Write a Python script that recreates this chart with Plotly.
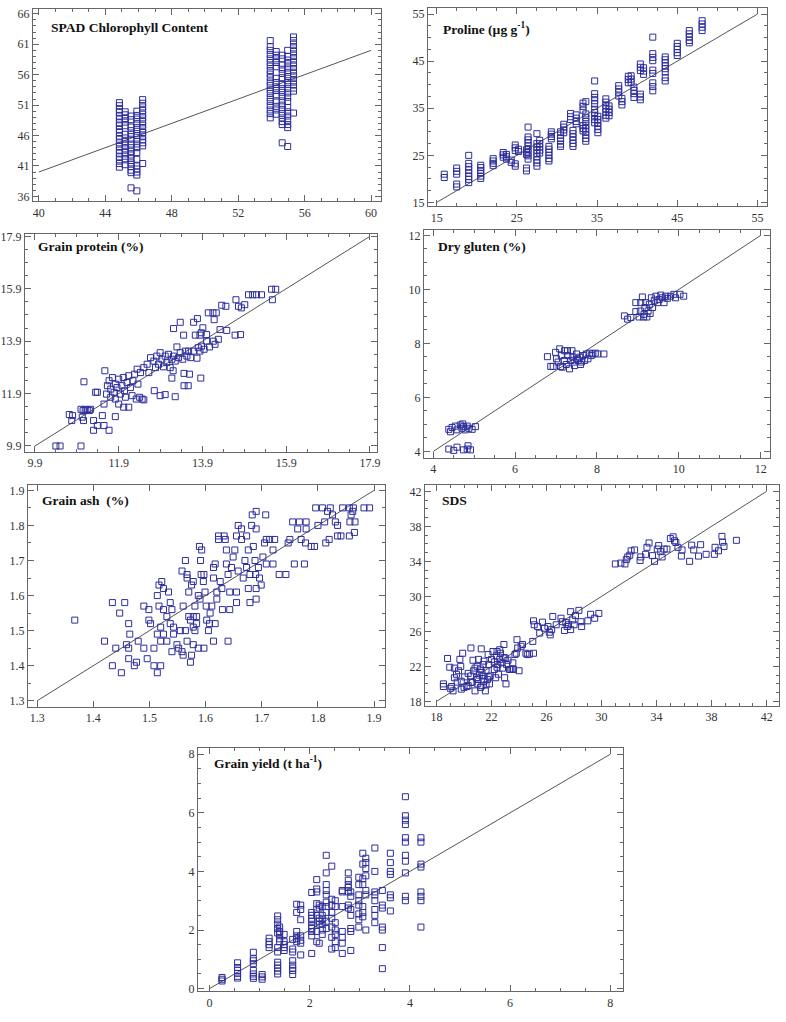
import plotly.graph_objects as go

FONT = "Liberation Serif, Times New Roman, serif"
W, H = 786, 1022
MARK = "#2e2e9c"

# ---- SPAD chlorophyll content (points stacked in columns) ----
spad_cols = [44.85, 45.2, 45.55, 45.9, 46.25, 53.93, 54.29, 54.65, 54.98, 55.33]
spad_vals = [
    [51.4, 50.9, 50.3, 49.8, 49.2, 48.7, 48.1, 47.6, 47.0, 46.5, 45.9, 45.4, 44.8, 44.2, 43.6, 43.1, 42.5, 42.0, 41.4, 40.8],
    [49.9, 49.4, 48.8, 48.2, 47.6, 46.2, 45.6, 45.0, 44.4, 43.8, 43.2, 42.6, 42.0, 41.2],
    [49.2, 48.6, 47.4, 46.8, 46.2, 45.4, 44.6, 44.0, 43.4, 42.8, 42.2, 41.5, 40.9, 40.3, 39.9, 37.4],
    [50.0, 49.3, 48.7, 48.0, 47.3, 46.7, 46.0, 45.3, 44.6, 44.0, 43.2, 42.1, 41.0, 40.5, 40.0, 39.5, 36.9],
    [51.9, 51.3, 50.7, 50.1, 49.5, 48.9, 48.3, 47.7, 47.1, 46.5, 45.9, 45.3, 44.8, 44.3, 41.4],
    [61.6, 60.6, 60.0, 59.3, 58.6, 58.0, 57.4, 56.7, 56.1, 55.5, 54.8, 54.2, 53.5, 52.9, 52.2, 51.6, 50.9, 50.2, 49.6, 48.9],
    [59.8, 59.2, 58.6, 58.0, 57.3, 55.4, 54.7, 54.0, 53.4, 52.7, 51.5, 50.8, 50.2, 49.5],
    [59.2, 58.6, 57.6, 56.9, 56.2, 55.5, 54.4, 53.7, 53.1, 52.4, 51.7, 51.0, 50.3, 49.6, 48.9, 48.3, 47.8, 44.8],
    [60.0, 59.0, 58.4, 57.8, 57.1, 56.4, 55.7, 55.0, 54.4, 53.7, 53.0, 52.3, 51.6, 50.6, 49.9, 49.2, 48.5, 47.8, 47.3, 44.2],
    [62.2, 61.6, 61.0, 60.4, 59.8, 59.2, 58.6, 58.0, 57.4, 56.8, 56.2, 55.6, 55.0, 54.4, 53.8, 53.3, 49.7],
]
spad_line = [40, 60]

# ---- Proline (columns) ----
proline_cols = [15.95, 17.5, 19.0, 20.5, 22.05, 23.3, 23.7, 24.3, 24.8, 25.2, 26.2, 26.4, 27.5,
                27.85, 29.0, 29.3, 30.45, 30.85, 31.7, 32.0, 32.4, 33.25, 33.6, 34.7, 35.1, 36.1,
                36.5, 37.7, 38.1, 38.9, 39.25, 39.6, 40.4, 40.8, 41.95, 43.5, 45.0, 46.5, 48.1]
proline_vals = [
    [21.0, 20.3],
    [22.3, 21.6, 21.0, 18.9, 18.3],
    [25.0, 23.3, 22.6, 21.9, 21.2, 20.5, 19.9, 19.2],
    [22.9, 22.4, 21.8, 21.2, 20.6, 20.1],
    [24.3, 23.8, 23.3, 22.8],
    [25.6, 25.1, 24.6],
    [25.2, 24.7, 24.2],
    [24.0, 23.5],
    [27.2, 26.6, 26.0, 23.2, 22.7],
    [26.3, 25.8],
    [26.2, 25.7, 25.2, 22.3, 21.7],
    [31.0, 28.9, 28.3, 27.7, 27.0, 26.3, 25.6, 24.9, 24.2],
    [29.6, 27.5, 26.8, 26.1, 25.4, 24.7, 24.0, 23.4, 22.7],
    [28.2, 27.5, 26.8, 26.1, 25.5],
    [26.9, 26.3, 25.7, 25.0, 24.3, 23.8],
    [30.0, 29.5, 29.0, 28.5],
    [30.0, 29.3, 28.6, 28.0, 27.4, 26.9],
    [31.6, 31.0, 30.4, 29.8],
    [33.9, 33.2, 32.6],
    [30.3, 29.6, 28.9, 28.2, 27.5, 26.9],
    [33.6, 32.9, 32.2, 31.7],
    [36.1, 35.4, 34.6, 31.3, 30.7, 30.2],
    [36.4, 33.8, 33.0, 32.2, 31.4, 30.7, 30.0, 29.3, 28.6, 28.0],
    [40.8, 38.1, 37.3, 36.6, 35.9, 34.8, 34.1, 33.4, 32.6, 31.9],
    [33.3, 32.6, 31.9, 31.2, 30.5, 29.8],
    [37.0, 36.3, 35.6, 34.9, 34.2, 33.5, 32.9],
    [35.5, 34.8, 34.1, 33.4],
    [39.8, 39.1, 38.4, 37.6],
    [37.1, 36.4, 35.7],
    [41.8, 41.1, 40.4],
    [41.9, 41.2, 40.5],
    [39.5, 38.8, 38.1, 37.3],
    [44.4, 43.7, 43.0, 38.0, 37.4, 36.8],
    [43.6, 42.9, 42.2],
    [50.1, 46.6, 45.8, 45.1, 43.1, 42.4, 40.4, 39.6, 38.7],
    [45.9, 45.3, 44.7, 44.0, 43.4, 42.7, 41.5, 40.8],
    [48.8, 48.1, 47.5, 46.8, 46.2],
    [51.5, 50.8, 50.1, 49.4, 48.9],
    [53.6, 52.9, 52.2, 51.5],
]
proline_line = [15, 55]

# ---- Grain protein ----
protein_x = [10.4, 10.5, 11.0, 10.72, 10.8, 10.78, 11.0, 11.05, 11.1, 11.15, 11.2, 11.23, 11.03, 11.06,
             11.3, 11.3, 11.39, 11.51, 11.55, 11.67, 11.35, 11.39, 11.07, 11.57,
             11.63, 11.67, 11.71, 11.75, 11.79, 11.82, 11.86, 11.9, 11.94, 11.98, 12.01, 12.04, 12.06,
             12.1, 12.14, 12.18, 12.22, 12.24, 12.28, 12.32, 12.36, 12.4, 12.46, 12.5, 11.61, 11.71,
             11.82, 11.9, 12.02, 12.14, 11.82, 11.55,
             12.34, 12.42, 12.5, 12.58, 12.62, 12.66, 12.74, 12.78, 12.81, 12.85, 12.89, 12.93, 12.97,
             13.01, 13.05, 13.09, 13.13, 13.17, 13.21, 13.25, 13.29, 13.33, 13.37, 13.43, 13.49, 13.53,
             13.57, 13.62, 13.69, 13.77, 13.8, 13.84, 13.88, 13.94, 14.0, 14.07, 14.16, 14.2,
             12.75, 12.89, 13.01, 13.25, 13.17, 13.2, 13.46, 13.59, 13.46, 13.56, 13.86,
             13.37, 13.21, 13.45, 13.73, 13.84, 13.69, 13.78, 13.87, 13.91, 14.0, 14.04, 14.15, 14.23,
             14.18, 14.36, 14.46, 14.48, 14.68, 14.81, 14.7, 14.76, 14.83, 14.91, 15.0, 15.1, 15.19,
             15.31, 15.55, 15.65, 15.57, 14.28, 14.32]
protein_y = [9.9, 9.9, 9.9, 11.1, 11.06, 10.87, 11.3, 11.25, 11.3, 11.28, 11.25, 11.3, 11.0, 10.87,
             10.87, 10.5, 10.68, 11.06, 10.68, 10.5, 11.95, 11.95, 12.35, 12.77,
             12.2, 12.39, 12.07, 12.51, 11.95, 12.26, 12.13, 12.45, 11.88, 12.2, 12.51, 12.01, 11.76,
             12.32, 12.58, 12.13, 11.82, 12.39, 12.64, 11.69, 12.26, 11.76, 11.69, 11.66, 11.88, 11.76,
             11.69, 11.5, 11.38, 11.38, 11.02, 11.5,
             12.83, 12.7, 12.89, 13.02, 12.7, 13.27, 13.14, 12.89, 13.33, 13.02, 13.46, 13.21, 12.92,
             13.33, 13.08, 13.4, 12.89, 13.21, 13.33, 13.14, 13.68, 13.27, 13.46, 13.21, 13.52, 13.33,
             13.52, 13.27, 13.52, 13.25, 13.65, 13.52, 13.71, 13.59, 13.9, 13.68, 13.9, 13.78,
             12.01, 11.82, 11.86, 11.78, 12.49, 12.77, 12.67, 12.64, 12.2, 12.2, 12.49,
             14.62, 14.38, 14.13, 14.13, 14.13, 14.62, 14.76, 14.22, 14.41, 14.15, 14.98, 14.98, 14.98,
             14.72, 15.27, 15.23, 14.31, 14.13, 14.15, 15.48, 15.23, 15.17, 15.29, 15.67, 15.67, 15.67,
             15.67, 15.88, 15.88, 15.48, 13.97, 14.34]
protein_line = [9.9, 17.9]

# ---- Dry gluten ----
gluten_x = [4.38, 4.46, 4.54, 4.58, 4.66, 4.7, 4.74, 4.78, 4.83, 4.87, 4.95, 5.03, 4.42, 4.72,
            4.38, 4.5, 4.58, 4.74, 4.83, 4.85, 4.91,
            6.79, 6.87, 6.93, 6.99, 7.01, 7.05, 7.09, 7.13, 7.15, 7.2, 7.21, 7.25, 7.29, 7.33, 7.36,
            7.39, 7.41, 7.45, 7.5, 7.54, 7.58, 7.62, 7.66, 7.7, 7.74, 7.78, 7.82, 7.86, 7.9, 7.96,
            8.02, 8.17, 7.28, 7.44, 7.52, 7.6, 7.11,
            8.67, 8.75, 8.83, 8.95, 9.06, 8.95, 9.07, 9.11, 9.15, 9.17, 9.19, 9.22, 9.25, 9.28, 9.3,
            9.33, 9.36, 9.4, 9.44, 9.48, 9.52, 9.56, 9.6, 9.64, 9.68, 9.72, 9.8, 9.88, 9.92, 10.03,
            10.12, 9.14, 9.03]
gluten_y = [4.82, 4.89, 4.94, 4.8, 4.98, 4.86, 4.92, 4.8, 4.94, 4.86, 4.82, 4.92, 4.73, 5.02,
            4.09, 4.04, 4.16, 4.06, 4.09, 4.21, 4.06,
            7.51, 7.15, 7.15, 7.67, 7.43, 7.31, 7.8, 7.55, 7.12, 7.37, 7.73, 7.22, 7.55, 7.06, 7.37,
            7.73, 7.49, 7.18, 7.61, 7.37, 7.49, 7.31, 7.55, 7.37, 7.61, 7.43, 7.64, 7.55, 7.61, 7.64,
            7.61, 7.61, 7.73, 7.31, 7.43, 7.22, 7.15,
            9.02, 8.9, 8.96, 9.18, 9.2, 9.51, 9.51, 9.72, 9.08, 9.33, 9.51, 8.98, 9.2, 9.45, 9.11,
            9.69, 9.33, 9.6, 9.75, 9.51, 9.63, 9.79, 9.69, 9.51, 9.75, 9.67, 9.75, 9.82, 9.69, 9.82,
            9.75, 8.98, 8.98]
gluten_line = [4, 12]

# ---- Grain ash ----
ash_x = [1.367, 1.42, 1.434, 1.456, 1.447, 1.463, 1.465, 1.44, 1.459, 1.463, 1.463, 1.477, 1.434,
         1.45, 1.473, 1.48, 1.49, 1.499, 1.499, 1.502, 1.49, 1.496, 1.508, 1.508, 1.514, 1.517,
         1.522, 1.514, 1.517, 1.525, 1.525, 1.534, 1.537, 1.531, 1.52, 1.514, 1.525, 1.537, 1.543,
         1.549, 1.558, 1.552, 1.54, 1.56, 1.52, 1.52, 1.531, 1.555, 1.564, 1.56, 1.564, 1.558,
         1.567, 1.567, 1.57, 1.57, 1.573, 1.578, 1.575, 1.578, 1.573, 1.567, 1.578, 1.584, 1.581,
         1.581, 1.587, 1.589, 1.591, 1.593, 1.584, 1.59, 1.592, 1.596, 1.597, 1.597, 1.599, 1.601,
         1.602, 1.605, 1.607, 1.608, 1.611, 1.614, 1.614, 1.617, 1.617, 1.62, 1.62, 1.623, 1.623,
         1.626, 1.629, 1.63, 1.633, 1.635, 1.637, 1.637, 1.64, 1.64, 1.643, 1.643, 1.646, 1.649,
         1.652, 1.655, 1.655, 1.658, 1.655, 1.658, 1.664, 1.664, 1.667, 1.67, 1.673, 1.673, 1.676,
         1.676, 1.679, 1.679, 1.682, 1.683, 1.685, 1.688, 1.689, 1.69, 1.69, 1.69, 1.69, 1.694,
         1.696, 1.699, 1.702, 1.705, 1.707, 1.708, 1.708, 1.714, 1.72, 1.723, 1.72, 1.731, 1.743,
         1.747, 1.75, 1.758, 1.755, 1.767, 1.764, 1.77, 1.776, 1.779, 1.779, 1.778, 1.788, 1.794,
         1.796, 1.8, 1.808, 1.812, 1.814, 1.817, 1.82, 1.822, 1.826, 1.831, 1.835, 1.835, 1.841,
         1.844, 1.856, 1.856, 1.857, 1.859, 1.862, 1.865, 1.866, 1.882, 1.892, 1.863, 1.54, 1.543,
         1.587, 1.614, 1.578, 1.575]
ash_y = [1.53, 1.47, 1.58, 1.58, 1.55, 1.52, 1.49, 1.45, 1.46, 1.45, 1.42, 1.41, 1.40,
         1.38, 1.40, 1.47, 1.57, 1.56, 1.53, 1.52, 1.45, 1.42, 1.45, 1.40, 1.38, 1.63,
         1.64, 1.60, 1.57, 1.62, 1.56, 1.61, 1.58, 1.54, 1.51, 1.49, 1.49, 1.52, 1.49,
         1.46, 1.44, 1.45, 1.44, 1.43, 1.40, 1.47, 1.47, 1.50, 1.50, 1.57, 1.70, 1.67,
         1.66, 1.65, 1.61, 1.54, 1.53, 1.54, 1.63, 1.64, 1.41, 1.47, 1.51, 1.52, 1.50,
         1.57, 1.60, 1.74, 1.70, 1.73, 1.54, 1.59, 1.66, 1.64, 1.66, 1.45, 1.61, 1.57,
         1.53, 1.50, 1.52, 1.55, 1.57, 1.68, 1.65, 1.69, 1.52, 1.61, 1.59, 1.77, 1.76,
         1.64, 1.62, 1.56, 1.77, 1.76, 1.73, 1.69, 1.66, 1.47, 1.61, 1.56, 1.68, 1.71,
         1.73, 1.61, 1.58, 1.67, 1.77, 1.80, 1.76, 1.79, 1.65, 1.70, 1.68, 1.77, 1.73,
         1.62, 1.66, 1.58, 1.80, 1.83, 1.74, 1.70, 1.66, 1.84, 1.79, 1.62, 1.59, 1.68,
         1.65, 1.63, 1.71, 1.75, 1.83, 1.76, 1.69, 1.76, 1.69, 1.76, 1.73, 1.66, 1.66,
         1.75, 1.76, 1.69, 1.81, 1.81, 1.79, 1.76, 1.69, 1.79, 1.81, 1.75, 1.74, 1.74,
         1.85, 1.80, 1.85, 1.81, 1.75, 1.84, 1.76, 1.85, 1.83, 1.81, 1.80, 1.77, 1.77,
         1.85, 1.85, 1.77, 1.81, 1.83, 1.84, 1.78, 1.81, 1.85, 1.85, 1.85, 1.56, 1.51,
         1.45, 1.47, 1.46, 1.43]
ash_line = [1.3, 1.9]

# ---- SDS sedimentation ----
sds_x = [18.5, 18.5, 18.8, 18.96, 19.1, 19.2, 19.3, 19.45, 19.6, 19.7, 19.76, 19.8, 19.8, 19.9,
         20.05, 20.2, 20.3, 20.5, 20.5, 20.5, 20.65, 20.7, 20.8, 20.9, 20.95, 21.0, 21.05, 21.2,
         21.25, 21.3, 21.4, 21.45, 21.55, 21.6, 21.7, 21.75, 21.8, 21.85, 21.9, 22.0, 22.1, 22.2,
         22.3, 22.35, 22.4, 22.45, 22.5, 22.6, 22.65, 22.75, 22.8, 22.9, 22.95, 23.0, 23.05, 23.1,
         23.2, 23.3, 23.4, 23.55, 23.6, 23.7, 23.8, 23.85, 23.9, 24.0, 24.15, 24.25, 24.5, 24.6,
         24.75, 25.0, 25.05, 21.1, 21.3, 21.45, 21.6, 21.0, 21.2, 20.6, 22.4, 22.2, 23.5, 19.0,
         19.5, 20.0, 20.3, 21.8, 22.6, 22.9, 21.4, 20.8, 19.3,
         25.05, 25.1, 25.35, 25.5, 25.7, 25.85, 26.1, 26.2, 26.27, 26.37, 26.45, 26.7, 27.05, 27.15,
         27.3, 27.4, 27.5, 27.6, 27.75, 27.75, 27.9, 28.0, 28.1, 28.35, 28.5, 28.55, 29.0, 29.2,
         29.5, 29.8,
         31.0, 31.4, 31.7, 31.8, 31.9, 32.05, 32.15, 32.4, 32.8, 32.85, 33.2, 33.3, 33.45, 33.7,
         33.85, 34.05, 34.15, 34.3, 34.4, 34.55, 34.75, 35.0, 35.2, 35.3, 35.4, 35.55, 35.85, 35.8,
         36.4, 36.55, 36.7, 37.05, 37.2, 37.6, 38.2, 38.25, 38.5, 38.75, 38.8, 38.9, 39.8]
sds_y = [20.0, 19.7, 22.9, 21.9, 19.7, 19.2, 20.7, 21.1, 21.5, 22.8, 22.0, 20.3, 19.4, 23.5,
         20.8, 19.7, 19.8, 20.9, 20.15, 24.1, 22.7, 21.5, 19.2, 20.7, 22.0, 20.0, 22.8, 21.7,
         24.0, 19.8, 20.9, 22.6, 19.2, 21.5, 20.5, 23.35, 22.2, 20.0, 20.9, 22.8, 23.7, 21.65,
         20.7, 23.2, 23.7, 22.2, 21.1, 22.8, 23.5, 22.4, 21.8, 24.5, 20.7, 22.95, 20.0, 22.2,
         22.7, 21.65, 21.65, 22.4, 21.65, 23.35, 23.5, 25.05, 24.1, 21.5, 24.3, 24.5, 23.5, 23.35,
         23.4, 24.85, 23.5, 21.0, 21.3, 20.3, 19.9, 20.5, 19.6, 20.2, 21.9, 22.5, 21.7, 19.5,
         20.2, 19.6, 21.2, 20.8, 23.9, 23.0, 22.2, 21.8, 21.8,
         27.2, 26.75, 26.55, 25.8, 27.05, 26.35, 26.55, 25.9, 25.6, 26.2, 27.7, 26.75, 27.5, 27.1,
         26.1, 27.0, 26.55, 26.75, 28.25, 26.2, 27.3, 26.75, 27.8, 28.4, 27.1, 26.55, 27.2, 27.95,
         27.5, 28.05,
         33.7, 33.8, 33.7, 34.2, 34.5, 34.7, 35.2, 35.3, 34.1, 34.5, 34.8, 35.6, 36.1, 34.65,
         34.0, 35.4, 35.8, 35.1, 34.5, 35.4, 35.4, 36.6, 36.8, 36.35, 36.15, 35.6, 35.3, 34.6,
         34.0, 35.85, 35.3, 34.6, 35.9, 34.8, 34.8, 35.6, 35.2, 36.85, 36.2, 35.7, 36.4]
sds_line = [18, 42]

# ---- Grain yield (columns) ----
yield_cols = [0.25, 0.56, 0.875, 1.05, 1.19, 1.36, 1.4, 1.49, 1.66, 1.74, 1.82, 2.04, 2.14, 2.19,
              2.25, 2.33, 2.44, 2.51, 2.65, 2.77, 2.82, 2.98, 3.06, 3.12, 3.3, 3.45, 3.61, 3.91, 4.22]
yield_vals = [
    [0.38, 0.32, 0.26],
    [0.88, 0.72, 0.62, 0.52, 0.42, 0.36],
    [1.24, 1.02, 0.95, 0.85, 0.62, 0.5, 0.42, 0.35],
    [0.48, 0.4, 0.32],
    [1.72, 1.6, 1.5, 1.4],
    [2.48, 2.35, 2.2, 2.05, 1.9, 1.4, 1.25, 0.9, 0.8, 0.7, 0.6, 0.5],
    [2.1, 1.95, 1.85, 1.7, 1.6],
    [1.85, 1.6, 1.5, 1.4, 1.3],
    [1.68, 1.35, 1.25, 0.95, 0.8, 0.7, 0.62, 0.48],
    [2.88, 2.6, 1.95, 1.8, 1.7, 1.6],
    [2.85, 2.7, 2.35, 1.8, 1.65, 1.55, 1.15],
    [3.28, 2.6, 2.5, 2.4, 2.3, 2.15, 2.05, 1.95, 1.8, 1.2],
    [3.72, 3.4, 3.3, 2.9, 2.7, 2.5, 1.95, 1.6],
    [2.85, 2.75, 2.4, 2.3, 2.2, 1.55],
    [2.8, 2.5, 2.35, 2.2, 2.0, 1.85],
    [4.55, 3.95, 3.55, 3.35, 3.2, 2.95, 2.8, 2.6, 2.3, 2.05],
    [4.18, 3.05, 2.85, 2.6, 2.4, 2.1, 1.75, 1.35],
    [3.0, 2.8, 2.25, 2.0, 1.85, 1.6, 1.4],
    [3.35, 3.3, 2.8, 1.95, 1.75, 1.55, 1.2],
    [3.95, 3.7, 3.55, 3.45, 3.3, 2.85, 2.75],
    [3.3, 3.15, 2.7, 2.5, 2.05, 1.95, 1.3],
    [3.8, 3.55, 3.2, 3.0, 2.85, 2.55, 2.35, 2.1],
    [4.62, 4.25, 3.75, 3.55, 2.8, 2.6, 2.45],
    [4.45, 4.3, 4.1, 3.85, 3.35, 3.2, 2.0],
    [4.8, 4.0, 3.3, 3.2, 3.0, 2.7, 2.5, 2.25],
    [3.35, 2.85, 2.75, 2.1, 2.0, 1.4, 0.68],
    [4.62, 4.3, 4.0, 3.9, 3.2, 3.1, 2.65],
    [6.55, 5.9, 5.75, 5.6, 5.15, 5.0, 4.55, 4.35, 3.95, 3.15, 3.0],
    [5.15, 5.0, 4.25, 4.15, 3.3, 3.15, 3.0, 2.1],
]
yield_line = [0, 8]


def unstack(cols, vals):
    xs, ys = [], []
    for c, v in zip(cols, vals):
        xs += [c] * len(v)
        ys += v
    return xs, ys


spad_x, spad_y = unstack(spad_cols, spad_vals)
proline_x, proline_y = unstack(proline_cols, proline_vals)
yield_x, yield_y = unstack(yield_cols, yield_vals)

# box = (left, right, top, bottom) in pixels
panels = [
    dict(title="SPAD Chlorophyll Content", x=spad_x, y=spad_y, line=spad_line,
         box=(32, 382, 5, 199), xr=[39.64, 60.6], yr=[35.2, 66.8],
         xt=(40, 4, 1), yt=(36, 5, 1), fmt="", tpos=(48, 24)),
    dict(title="Proline (µg g<sup>-1</sup>)", x=proline_x, y=proline_y, line=proline_line,
         box=(429, 770, 4, 204), xr=[13.9, 56.2], yr=[14.2, 56.3],
         xt=(15, 10, 2.5), yt=(15, 10, 2.5), fmt="", tpos=(442, 25)),
    dict(title="Grain protein (%)", x=protein_x, y=protein_y, line=protein_line,
         box=(24, 378, 232, 452), xr=[9.66, 18.07], yr=[9.67, 17.99],
         xt=(9.9, 2, 0.5), yt=(9.9, 2, 0.5), fmt=".1f", tpos=(35, 245)),
    dict(title="Dry gluten (%)", x=gluten_x, y=gluten_y, line=gluten_line,
         box=(425, 773, 228, 458), xr=[3.77, 12.23], yr=[3.76, 12.2],
         xt=(4, 2, 0.5), yt=(4, 2, 0.5), fmt="", tpos=(437, 245)),
    dict(title="Grain ash&nbsp; (%)", x=ash_x, y=ash_y, line=ash_line,
         box=(27, 386, 485, 709), xr=[1.2835, 1.9195], yr=[1.283, 1.916],
         xt=(1.3, 0.1, None), yt=(1.3, 0.1, 0.05), fmt=".1f", tpos=(39, 501)),
    dict(title="SDS", x=sds_x, y=sds_y, line=sds_line,
         box=(426, 782, 485, 708), xr=[17.15, 42.9], yr=[17.5, 42.75],
         xt=(18, 4, 1), yt=(18, 4, 1), fmt="", tpos=(441, 501)),
    dict(title="Grain yield (t ha<sup>-1</sup>)", x=yield_x, y=yield_y, line=yield_line,
         box=(198, 625, 751, 996), xr=[-0.23, 8.25], yr=[-0.09, 8.2],
         xt=(0, 2, 0.5), yt=(0, 2, 0.5), fmt="", tpos=(212, 765)),
]

fig = go.Figure()
layout = {}
annotations = []

for i, p in enumerate(panels, start=1):
    sfx = "" if i == 1 else str(i)
    xa, ya = "x" + sfx, "y" + sfx

    fig.add_trace(go.Scatter(
        x=p["line"], y=p["line"], mode="lines",
        line=dict(color="#555555", width=1),
        xaxis=xa, yaxis=ya, hoverinfo="skip", showlegend=False))
    fig.add_trace(go.Scatter(
        x=p["x"], y=p["y"], mode="markers",
        marker=dict(symbol="square-open", size=6, color=MARK, line=dict(width=1)),
        xaxis=xa, yaxis=ya, showlegend=False))

    l, r, t, b = p["box"]

    def axis(tk, rng, dom, anchor):
        tick0, dtick, mdt = tk
        a = dict(domain=dom, range=rng, anchor=anchor, tick0=tick0, dtick=dtick,
                 showline=True, linecolor="#666666", linewidth=1, mirror="ticks",
                 ticks="inside", ticklen=6, tickcolor="#666666", tickwidth=1,
                 showgrid=False, zeroline=False, tickformat=p["fmt"],
                 tickfont=dict(family=FONT, size=12, color="#333333"))
        if mdt:
            a["minor"] = dict(ticks="inside", ticklen=3, tickcolor="#666666",
                              tick0=tick0, dtick=mdt, showgrid=False)
        return a

    layout["xaxis" + sfx] = axis(p["xt"], p["xr"], [l / W, r / W], ya)
    layout["yaxis" + sfx] = axis(p["yt"], p["yr"], [1 - b / H, 1 - t / H], xa)

    tx, ty = p["tpos"]
    annotations.append(dict(
        text="<b>" + p["title"] + "</b>", x=tx / W, y=1 - ty / H,
        xref="paper", yref="paper", xanchor="left", yanchor="middle",
        showarrow=False, font=dict(family=FONT, size=13.5, color="#111111")))

fig.update_layout(
    width=W, height=H,
    margin=dict(l=0, r=0, t=0, b=0),
    paper_bgcolor="white", plot_bgcolor="white",
    annotations=annotations,
    **layout,
)

# drop the default page margin so the figure sits at the window's corner
fig.write_html("out.html", config={"displayModeBar": False},
               post_script="document.body.style.margin='0';document.body.style.overflow='hidden';")
